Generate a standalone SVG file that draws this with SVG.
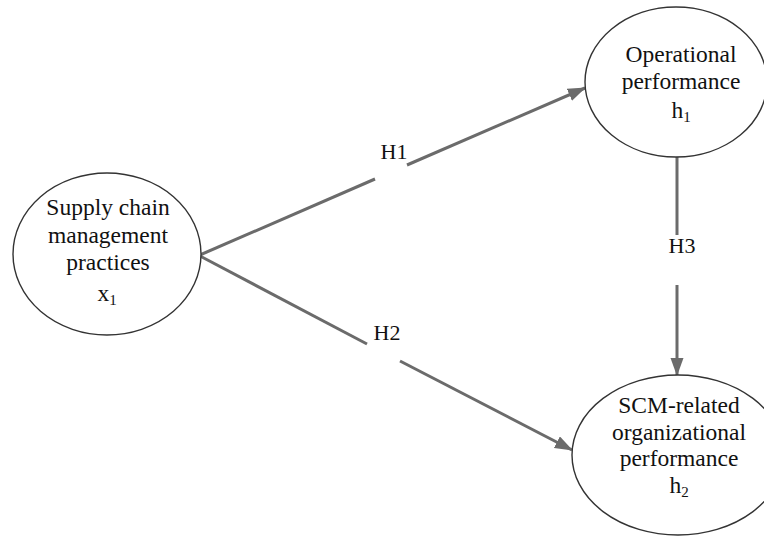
<svg xmlns="http://www.w3.org/2000/svg" width="764" height="538" viewBox="0 0 764 538">
<style>
.node ellipse{fill:#fff;stroke:#333;stroke-width:1.4}
.lbl{font-family:"Liberation Serif","Times New Roman",serif;font-size:22px;fill:#111;text-anchor:middle}
.node .lbl{font-size:23.5px}
.node .sub{font-size:15px}
.conn line{stroke:#6b6b6b;stroke-width:3;fill:none}
</style>
<defs>
<marker id="arr" markerUnits="userSpaceOnUse" markerWidth="20" markerHeight="14" refX="17" refY="6.5" orient="auto">
<path d="M0,0 L18,6.5 L0,13 z" fill="#6b6b6b"/>
</marker>
</defs>
<rect width="764" height="538" fill="#fff"/>
<g id="connectors" class="conn">
<line x1="200" y1="255" x2="375" y2="179"/>
<line x1="407" y1="165" x2="585" y2="88" marker-end="url(#arr)"/>
<line x1="200" y1="256" x2="367" y2="344"/>
<line x1="400" y1="361" x2="572" y2="450" marker-end="url(#arr)"/>
<line x1="677" y1="157" x2="677" y2="235"/>
<line x1="677" y1="285" x2="677" y2="375" marker-end="url(#arr)"/>
<text class="lbl" x="394" y="159">H1</text>
<text class="lbl" x="387" y="340">H2</text>
<text class="lbl" x="682" y="253">H3</text>
</g>
<g id="scmp" class="node">
<ellipse cx="107" cy="254" rx="94" ry="81"/>
<text class="lbl" x="108" y="215">Supply chain</text>
<text class="lbl" x="108" y="243">management</text>
<text class="lbl" x="108" y="270">practices</text>
<text class="lbl" x="107" y="301">x<tspan class="sub" dy="4">1</tspan></text>
</g>
<g id="op" class="node">
<ellipse cx="676" cy="82" rx="91" ry="75"/>
<text class="lbl" x="681" y="62">Operational</text>
<text class="lbl" x="681" y="89">performance</text>
<text class="lbl" x="681" y="118">h<tspan class="sub" dy="4">1</tspan></text>
</g>
<g id="scmop" class="node">
<ellipse cx="678" cy="455" rx="106" ry="80"/>
<text class="lbl" x="679" y="413">SCM-related</text>
<text class="lbl" x="679" y="440">organizational</text>
<text class="lbl" x="679" y="466">performance</text>
<text class="lbl" x="679" y="493">h<tspan class="sub" dy="4">2</tspan></text>
</g>
</svg>
